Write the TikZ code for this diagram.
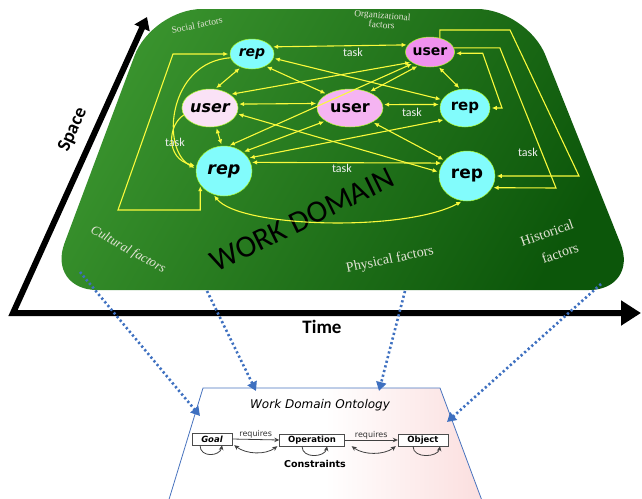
\documentclass[tikz,border=0pt]{standalone}
\usepackage{fontspec}
\setmainfont{Liberation Serif}
\setsansfont{Carlito}
\newfontfamily\djv{DejaVu Sans}
\usetikzlibrary{shapes.geometric,arrows.meta,calc}
\definecolor{gA}{RGB}{58,148,46}
\definecolor{gB}{RGB}{12,86,10}
\definecolor{yel}{RGB}{250,250,60}
\definecolor{cyanr}{RGB}{130,252,252}
\definecolor{pinkA}{RGB}{240,145,238}
\definecolor{pinkB}{RGB}{245,180,242}
\definecolor{pinkL}{RGB}{250,226,246}
\definecolor{fac}{RGB}{228,228,215}
\definecolor{dotb}{RGB}{62,112,192}
\definecolor{ontb}{RGB}{72,115,190}
\definecolor{ontp}{RGB}{251,222,222}
\tikzset{
  ell/.style={ellipse, inner sep=0pt, draw=yel!70!green, line width=0.5pt},
  link/.style={draw=yel, line width=1.1pt, {Latex[length=5pt,width=4.5pt]}-{Latex[length=5pt,width=4.5pt]}, shorten <=1.5pt, shorten >=1.5pt},
  linkone/.style={draw=yel, line width=1.1pt, -{Latex[length=5pt,width=4.5pt]}, shorten >=1.5pt},
  tasklbl/.style={text=white!88!gray, font=\sffamily\fontsize{12}{12}\selectfont, inner sep=0pt},
  factor/.style={text=fac, inner sep=0pt, align=center},
  dotarr/.style={draw=dotb, line width=2.6pt, dash pattern=on 2.2pt off 2.6pt, -{Triangle[length=9pt,width=10pt]}},
  obox/.style={draw=black!70, fill=white, minimum height=12pt, inner sep=1pt, font=\djv\bfseries\fontsize{8.5}{8.5}\selectfont},
  oarr/.style={draw=black!75, line width=0.8pt, -{Stealth[length=5pt,width=4.5pt]}},
  oarrb/.style={draw=black!75, line width=0.8pt, {Stealth[length=5pt,width=4.5pt]}-{Stealth[length=5pt,width=4.5pt]}},
  olbl/.style={font=\djv\fontsize{8}{8}\selectfont, inner sep=0.5pt, text=black!80}
}
\begin{document}
\begin{tikzpicture}[x=1pt,y=-1pt]
\useasboundingbox (0,0) rectangle (642,498);
% ontology sheet
\path[draw=ontb, line width=0.8pt, left color=white, right color=ontp, middle color=white] (167,506) -- (203,388) -- (440,388) -- (484,506) -- cycle;
% axes
\coordinate (sp) at (147,17);
\coordinate (org) at (13,313);
\coordinate (tm) at (641,313);
\draw[line width=6pt, line join=miter, {Triangle[length=12pt,width=16pt]}-{Triangle[length=20pt,width=24pt]}] (sp) -- (org) -- (tm);
\node[font=\sffamily\bfseries\fontsize{19}{19}\selectfont, rotate=65.6] (spl) at (73,130) {Space};
\node[font=\sffamily\bfseries\fontsize{19}{19}\selectfont] (tml) at (322,327) {Time};
% work domain plate
\path[top color=gA, bottom color=gB, shading angle=60, rounded corners=50pt] (47,290) -- (152,9) -- (527,9) -- (639,290) -- cycle;
% factor labels
\node[factor, font=\fontsize{9.5}{9.5}\selectfont, rotate=12] (soc) at (197,25) {Social factors};
\node[factor, font=\fontsize{9.5}{9.5}\selectfont, rotate=-5] (orgf) at (382,20) {Organizational\\factors};
\node[factor, font=\itshape\fontsize{13}{13}\selectfont, rotate=-29] (cul) at (128,250) {Cultural factors};
\node[factor, font=\fontsize{14}{14}\selectfont, rotate=12] (phy) at (390,260) {Physical factors};
\node[factor, font=\fontsize{14}{14}\selectfont, rotate=19] (his) at (547,233) {Historical};
\node[factor, font=\fontsize{14}{14}\selectfont, rotate=19] (his2) at (560,253) {factors};
\node[font=\sffamily\fontsize{31}{31}\selectfont, rotate=26, inner sep=0pt] (wd) at (302,220) {WORK DOMAIN};
% nodes
\node[ell, fill=cyanr, minimum width=44pt, minimum height=30pt, font=\djv\bfseries\itshape\fontsize{14}{14}\selectfont] (r1) at (252,54) {rep};
\node[ell, fill=pinkA, minimum width=44pt, minimum height=30pt, font=\djv\bfseries\fontsize{14}{14}\selectfont] (uTR) at (430,52) {user};
\node[ell, fill=pinkL, minimum width=50pt, minimum height=38pt, font=\djv\bfseries\itshape\fontsize{16}{16}\selectfont] (uL) at (210,108) {user};
\node[ell, fill=pinkB, minimum width=66pt, minimum height=38pt, font=\djv\bfseries\fontsize{16}{16}\selectfont] (uC) at (350,108) {user};
\node[ell, fill=cyanr, minimum width=50pt, minimum height=38pt, font=\djv\bfseries\fontsize{15}{15}\selectfont] (rRM) at (465,108) {rep};
\node[ell, fill=cyanr, minimum width=56pt, minimum height=50pt, font=\djv\bfseries\itshape\fontsize{17.5}{17.5}\selectfont] (rLB) at (224,171) {rep};
\node[ell, fill=cyanr, minimum width=56pt, minimum height=50pt, font=\djv\bfseries\fontsize{17}{17}\selectfont] (rRB) at (467,176) {rep};
% yellow connectors
\draw[link] (r1.20) -- (uTR.162);
\draw[link] (r1.-130) -- (uL.75);
\draw[link] (r1.-11) -- (rRM.160);
\draw[link] (r1.-42) -- (uC.149);
\draw[link] (uTR.-151) -- (uL.34);
\draw[link] (uTR.-146) -- (rLB.80);
\draw[link] (uTR.-130) -- (uC.40);
\draw[link] (uTR.-61) -- (rRM.104);
\draw[link] (uL.8) -- (uC.172);
\draw[link] (uC.6) -- (rRM.172);
\draw[link] (uL.-12) -- (rRB.172);
\draw[link] (uL.-72) -- (rLB.95);
\draw[link] (rLB.18) -- (rRB.152);
\draw[link] (rLB.28) -- (rRM.-150);
\draw[link] (uC.-152) -- (rLB.45);
\draw[link] (uC.-32) -- (rRB.145);
\draw[link] (rLB.-150) |- (118,210) -- (173,54) -- (r1.west);
\draw[linkone] (r1.190) .. controls (168,62) and (160,150) .. (rLB.175);
\draw[linkone] (uL.195) .. controls (168,125) and (165,158) .. (rLB.170);
\draw[link] (rLB.-115) .. controls (240,228) and (405,232) .. (rRB.-100);
\draw[linkone] (uTR.55) |- (510,30) -- (579,176) -- (rRB.0);
\draw[linkone] (uTR.10) -- ++(46,0) -- (556,188) -- (rRB.-25);
\draw[link] (uTR.-3) -- ++(28,0) -- (502,108) -- (rRM.0);
% task labels
\node[tasklbl] (t1) at (353,52) {task};
\node[tasklbl] (t2) at (412,112) {task};
\node[tasklbl] (t3) at (342,168) {task};
\node[tasklbl] (t4) at (175,142) {task};
\node[tasklbl] (t5) at (528,152) {task};
% ontology content
\node[font=\djv\itshape\fontsize{12}{12}\selectfont] (ttl) at (320,405) {Work Domain Ontology};
\node[obox, minimum width=40pt, font=\djv\bfseries\itshape\fontsize{8.5}{8.5}\selectfont] (goal) at (212,439) {Goal};
\node[obox, minimum width=65pt] (oper) at (312,440) {Operation};
\node[obox, minimum width=50pt] (obj) at (423,440) {Object};
\draw[oarr] (goal.east) -- node[olbl, above] (rq1) {requires} (oper.west);
\draw[oarr] (oper.east) -- node[olbl, above] (rq2) {requires} (obj.west);
\draw[oarrb] ([xshift=2pt]goal.south east) .. controls +(12,9) and +(-12,9) .. ([xshift=-2pt]oper.south west);
\draw[oarrb] ([xshift=7pt]oper.south east) .. controls +(12,9) and +(-12,9) .. ([xshift=-2pt]obj.south west);
\draw[oarr] ([xshift=-12pt]goal.south) .. controls +(0,13) and +(-2,11) .. ([xshift=10pt]goal.south);
\draw[oarr] ([xshift=-10pt]oper.south) .. controls +(0,13) and +(-2,11) .. ([xshift=15pt]oper.south);
\draw[oarr] ([xshift=-10pt]obj.south) .. controls +(0,13) and +(-2,11) .. ([xshift=17pt]obj.south);
\node[font=\djv\bfseries\fontsize{9.5}{9.5}\selectfont] (con) at (315,464) {Constraints};
% dotted projections
\coordinate (d1s) at (80,272); \coordinate (d1e) at (200,416);
\coordinate (d2s) at (207,291); \coordinate (d2e) at (256,391);
\coordinate (d3s) at (405,291); \coordinate (d3e) at (379,391);
\coordinate (d4s) at (601,284); \coordinate (d4e) at (447,422);
\draw[dotarr] (d1s) -- (d1e);
\draw[dotarr] (d2s) -- (d2e);
\draw[dotarr] (d3s) -- (d3e);
\draw[dotarr] (d4s) -- (d4e);
\end{tikzpicture}
\end{document}
